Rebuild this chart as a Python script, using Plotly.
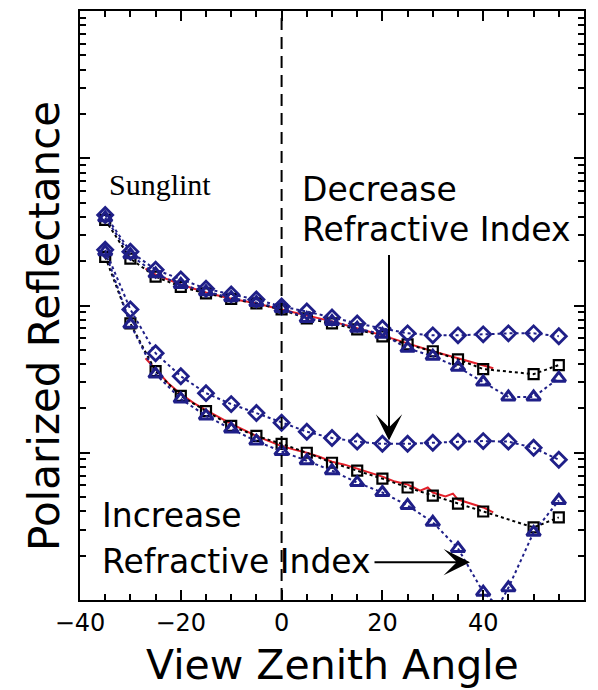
import plotly.graph_objects as go

# ---------------- data ----------------
angles_all = [-35, -30, -25, -20, -15, -10, -5, 0, 5, 10, 15, 20, 25, 30, 35, 40, 45, 50, 55]
angles_sq = [-35, -30, -25, -20, -15, -10, -5, 0, 5, 10, 15, 20, 25, 30, 35, 40, 50, 55]

# upper group (sunglint-side, lower refractive index)
up_square = [0.0381, 0.0208, 0.0157, 0.0134, 0.0121, 0.0111, 0.01033, 0.00940, 0.00817,
             0.00755, 0.00689, 0.00618, 0.00544, 0.00489, 0.00431, 0.00370, 0.00342, 0.00394]
up_triangle = [0.0394, 0.0221, 0.0164, 0.0139, 0.0124, 0.0113, 0.01047, 0.00955, 0.00817,
               0.00780, 0.00700, 0.00637, 0.00512, 0.00452, 0.00381, 0.00302, 0.00239,
               0.00239, 0.00321]
up_diamond = [0.0412, 0.0232, 0.0175, 0.0150, 0.0130, 0.0119, 0.0110, 0.00984, 0.00910,
              0.00830, 0.00755, 0.00700, 0.00647, 0.00627, 0.00627, 0.00637, 0.00647,
              0.00647, 0.00618]
up_red_x = [-27, -25, -20, -15, -10, -5, 0, 5, 10, 15, 20, 25, 30, 35, 40, 42]
up_red_y = [0.0178, 0.0162, 0.0139, 0.01225, 0.0111, 0.01033, 0.00940, 0.00855, 0.00780,
            0.00700, 0.00627, 0.00553, 0.00489, 0.00438, 0.00394, 0.00375]

# lower group
lo_square = [0.0214, 0.00755, 0.00358, 0.00243, 0.00192, 0.00152, 0.00130, 0.00115, 0.00100,
             0.000855, 0.000755, 0.000667, 0.000581, 0.000512, 0.000452, 0.000399,
             0.000311, 0.000364]
lo_tri_x = [-35, -30, -25, -20, -15, -10, -5, 0, 5, 10, 15, 20, 25, 30, 35, 40, 43, 45, 50, 55]
lo_triangle = [0.0232, 0.00745, 0.00342, 0.00232, 0.00178, 0.00145, 0.00120, 0.00102,
               0.000883, 0.000755, 0.000627, 0.000537, 0.000439, 0.000337, 0.000224,
               0.000113, 0.0000910, 0.000121, 0.000288, 0.000474]
lo_diamond = [0.0239, 0.00940, 0.00474, 0.00331, 0.00254, 0.00214, 0.00186, 0.00160, 0.00139,
              0.00126, 0.00119, 0.00115, 0.00115, 0.00117, 0.00119, 0.00120, 0.00119,
              0.00108, 0.000897]
lo_red_x = [-27, -25, -22.5, -20, -17.5, -15, -12.5, -10, -7.5, -5, -2.5, 0, 2.5, 5, 7.5, 10,
            12.5, 15, 17.5, 20, 22.5, 25, 27.5, 29, 30, 32.5, 34, 35, 37.5, 40, 42]
lo_red_y = [0.00438, 0.00370, 0.00297, 0.00251, 0.00218, 0.00195, 0.00175, 0.00157, 0.00143,
            0.00130, 0.00120, 0.00111, 0.00105, 0.00100, 0.000940, 0.000869, 0.000830,
            0.000780, 0.000733, 0.000689, 0.000637, 0.000608, 0.000553, 0.000581, 0.000537,
            0.000505, 0.000528, 0.000481, 0.000452, 0.000425, 0.000394]

x_ticks = [-40, -20, 0, 20, 40, 60]
x_labels = ["\u221240", "\u221220", "0", "20", "40", "60"]

# ---------------- styling ----------------
BLUE = "#1f1f88"
RED = "#e3202a"
FONT = "DejaVu Sans"
W, H = 598, 690
ML, MR, MT, MB = 80, 14, 9, 90
PW, PH = W - ML - MR, H - MT - MB


def px(xp):
    return (xp - ML) / PW


def py(yp):
    return (MT + PH - yp) / PH


fig = go.Figure()

for rx, ry in [(up_red_x, up_red_y), (lo_red_x, lo_red_y)]:
    fig.add_trace(go.Scatter(x=rx, y=ry, mode="lines",
                             line=dict(color=RED, width=2), showlegend=False))

for sy in (up_square, lo_square):
    fig.add_trace(go.Scatter(x=angles_sq, y=sy, mode="lines+markers",
                             line=dict(color="black", width=2, dash="dot"),
                             marker=dict(symbol="square-open", size=10, color="black",
                                         line=dict(width=2.2, color="black")),
                             showlegend=False))

fig.add_trace(go.Scatter(x=angles_all, y=up_triangle, mode="lines+markers",
                         line=dict(color=BLUE, width=2, dash="dot"),
                         marker=dict(symbol="triangle-up-open", size=12, color=BLUE,
                                     line=dict(width=3, color=BLUE)), showlegend=False))
tri_sizes = [0 if v == 43 else 12 for v in lo_tri_x]
fig.add_trace(go.Scatter(x=lo_tri_x, y=lo_triangle, mode="lines+markers",
                         line=dict(color=BLUE, width=2, dash="dot"),
                         marker=dict(symbol="triangle-up-open", size=tri_sizes, color=BLUE,
                                     opacity=1,
                                     line=dict(width=3, color=BLUE)), showlegend=False))

for dy in (up_diamond, lo_diamond):
    fig.add_trace(go.Scatter(x=angles_all, y=dy, mode="lines+markers",
                             line=dict(color=BLUE, width=2, dash="dot"),
                             marker=dict(symbol="diamond-open", size=11.5, color=BLUE,
                                         line=dict(width=2.8, color=BLUE)),
                             showlegend=False))

# dashed vertical line at nadir
fig.add_shape(type="line", xref="x", yref="paper", x0=0, x1=0, y0=0, y1=1,
              line=dict(color="black", width=2, dash="12px,7px"), layer="above")

ann = []
ann.append(dict(text="Sunglint", x=px(107), y=py(183), xref="paper", yref="paper",
                xanchor="left", yanchor="middle", showarrow=False,
                font=dict(family="Liberation Serif", size=30, color="black")))
for t, xl, yc in [("Decrease", 300, 188), ("Refractive Index", 300, 228),
                  ("Increase", 100, 515), ("Refractive Index", 100, 561)]:
    ann.append(dict(text=t, x=px(xl), y=py(yc), xref="paper", yref="paper",
                    xanchor="left", yanchor="middle", showarrow=False,
                    font=dict(family=FONT, size=33, color="black")))
# arrows
ann.append(dict(text="", x=px(389), y=py(440), xref="paper", yref="paper",
                ax=0, ay=-187, axref="pixel", ayref="pixel", showarrow=True,
                arrowhead=3, arrowsize=2.2, arrowwidth=2, arrowcolor="black"))
ann.append(dict(text="", x=px(470), y=py(562), xref="paper", yref="paper",
                ax=-97, ay=0, axref="pixel", ayref="pixel", showarrow=True,
                arrowhead=3, arrowsize=2.2, arrowwidth=2, arrowcolor="black"))
# axis titles
ann.append(dict(text="View Zenith Angle", x=0.5, y=py(665), xref="paper", yref="paper",
                xanchor="center", yanchor="middle", showarrow=False,
                font=dict(family=FONT, size=41, color="black")))
ann.append(dict(text="Polarized Reflectance", x=px(45), y=py(325), xref="paper", yref="paper",
                xanchor="center", yanchor="middle", showarrow=False, textangle=-90,
                font=dict(family=FONT, size=42, color="black")))

fig.update_layout(
    width=W, height=H,
    margin=dict(l=ML, r=MR, t=MT, b=MB),
    paper_bgcolor="white", plot_bgcolor="white",
    annotations=ann,
    showlegend=False,
    xaxis=dict(range=[-40, 60], tickvals=x_ticks, ticktext=x_labels,
               ticks="inside", ticklen=10, tickwidth=2, tickcolor="black",
               showline=True, linewidth=2, linecolor="black", mirror="ticks",
               showgrid=False, zeroline=False,
               tickfont=dict(family=FONT, size=24, color="black"),
               minor=dict(dtick=5, ticks="inside", ticklen=6, tickwidth=2,
                          tickcolor="black", showgrid=False)),
    yaxis=dict(type="log", range=[-4, 0], dtick=1,
               ticks="inside", ticklen=10, tickwidth=2, tickcolor="black",
               showline=True, linewidth=2, linecolor="black", mirror="ticks",
               showgrid=False, zeroline=False, showticklabels=False,
               minor=dict(dtick="D1", ticks="inside", ticklen=6, tickwidth=2,
                          tickcolor="black", showgrid=False)),
)

fig.write_html("out.html")
